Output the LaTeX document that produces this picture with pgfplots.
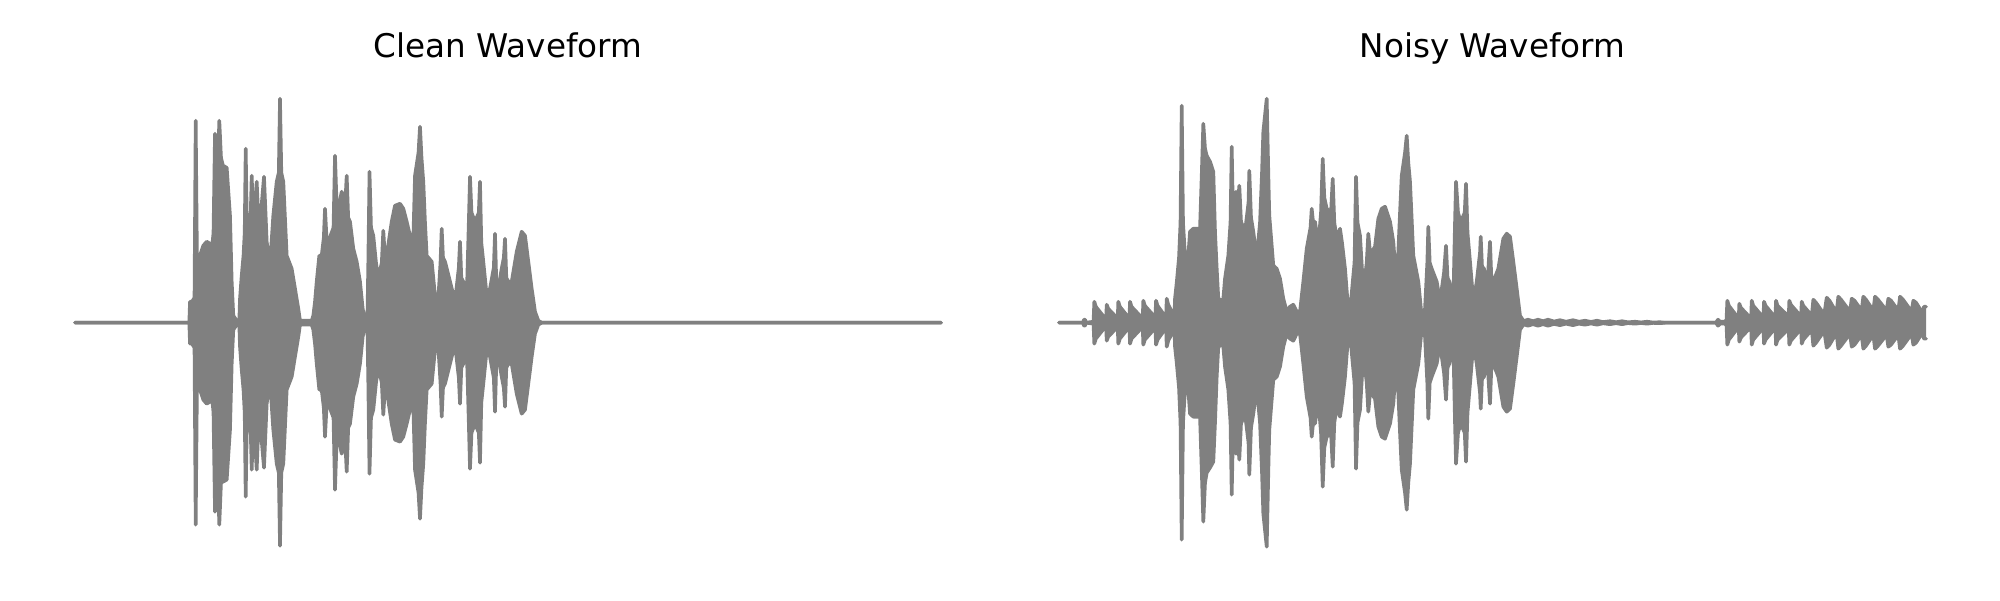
\documentclass[border=0pt]{standalone}
\usepackage{fontspec}
\setmainfont{DejaVu Sans}
\usepackage{pgfplots}
\usepackage{pgfplotstable}
\pgfplotsset{compat=1.18}
\usepgfplotslibrary{fillbetween}
\definecolor{wave}{RGB}{128,128,128}

\pgfplotstableread{
x t b
0 0 0
114.3 0 0
115 21 -21
117 21 -21
119.5 25 -25
120.7 202 -202
122 58 -58
125 67 -67
128.3 77 -77
131.7 81 -81
135 79 -79
137 74 -74
138.5 90 -90
140 189 -189
141.8 120 -120
144.3 202 -202
146 165 -160
148 157 -159
151.7 155 -157
155 107 -107
156.7 41 -41
158.3 7 -7
161.7 2 -2
164.3 2 -2
165 24 -24
166.7 47 -47
168.5 67 -67
169.7 90 -90
170.7 174 -174
172 90 -90
173.3 91 -91
175.5 100 -100
176.7 147 -147
178 107 -107
179.5 110 -110
181.7 141 -147
183.5 101 -101
186 110 -110
189 146 -145
191.7 81 -81
195 57 -57
198.3 107 -107
201.7 141 -141
203.8 150 -150
205 224 -223
206.3 150 -150
208.3 141 -141
211.7 67 -67
216.7 54 -54
220 34 -34
223.3 14 -14
225 2 -2
236.7 2 -2
238.3 7 -7
240 21 -21
241.7 41 -41
244.3 67 -67
246.7 67 -67
248.8 85 -85
250 114 -114
251.5 85 -85
253.3 81 -81
258.5 95 -95
260 167 -167
261.6 118 -118
263.3 114 -114
266.7 131 -131
270.3 120 -120
271.7 147 -149
273.2 105 -105
275 101 -101
278.3 74 -74
281.7 61 -61
285 41 -41
287.7 14 -14
290 2 -2
292.5 10 -10
293.3 60 -60
294.5 151 -151
296 95 -95
298.3 87 -87
301 60 -60
303.3 44 -44
306.8 60 -60
308.3 92 -92
309.8 67 -67
311.7 67 -67
316.7 101 -101
320 117 -117
325 119 -119
328.3 114 -114
331.7 101 -101
335 87 -87
337.7 60 -60
340 147 -147
343.5 170 -170
345 196 -196
346.5 165 -165
348.3 141 -141
350 100 -100
351.7 67 -67
356.7 61 -61
360 27 -27
361.7 4 -4
363.3 24 -24
365.5 60 -60
366.7 94 -94
368 65 -65
370 61 -61
375 41 -41
380 21 -21
383.8 55 -55
385 81 -81
386.3 45 -45
388.3 41 -41
391.7 24 -24
393.8 100 -100
395 146 -146
396.5 110 -110
400 101 -101
403.8 110 -110
405 141 -140
406.3 80 -80
408.3 61 -61
411.7 27 -27
415 34 -34
418.8 55 -55
420 89 -89
421.3 40 -40
423.3 34 -34
426.7 54 -54
428.8 65 -65
430 84 -84
431.3 45 -45
433.3 41 -41
436.7 41 -41
441.7 71 -71
446.7 91 -91
450 87 -87
453.3 61 -61
456.7 34 -34
460 11 -11
463.3 2 -2
466.7 0 0
845 0 0
866 0 0
}\clean

\pgfplotstableread{
x t b
0 0 0
24 0 0
25 3 -3
26 3 -3
27 0 0
34.5 1 -1
35.3 21 -21
36.8 16 -16
47.1 3 -3
47.7 18 -18
49.2 14 -14
58.7 4 -4
59.3 21 -21
60.8 16 -16
70.4 4 -4
71 21 -21
72.5 16 -16
83.7 4 -4
84.3 22 -22
85.8 17 -17
96.4 5 -5
97 22 -22
98.5 17 -17
107.1 5 -5
107.7 24 -24
109.2 18 -18
115.4 6 -6
116 24 -24
117.7 40 -40
120 65 -65
121.5 100 -100
122.7 217 -217
124 100 -100
126 67 -67
129.3 67 -67
131 91 -91
134.3 94 -94
137.7 94 -94
141 94 -94
142.8 150 -150
144.3 199 -199
146 174 -160
147.7 167 -150
151 161 -145
154.3 151 -139
156 91 -100
157.7 54 -54
159.3 24 -24
162.7 22 -22
164.3 24 -24
166 44 -44
169.3 67 -67
171.5 100 -100
172.7 176 -172
174 107 -107
177 131 -131
179 120 -120
180.3 137 -137
182 101 -101
186 91 -91
189.5 120 -120
190.3 152 -152
192 105 -105
194.3 91 -91
197.7 64 -64
201 100 -100
203 150 -150
204.3 191 -191
207.7 224 -224
209.5 140 -140
210.3 107 -107
214.3 57 -57
217.7 54 -54
221 44 -44
224.3 24 -24
227.7 11 -11
231 16 -16
234.3 18 -18
237.7 11 -11
241 11 -11
244.3 41 -41
247.7 74 -74
251.5 95 -95
252.7 114 -114
254 101 -101
256 101 -101
259.3 77 -77
262 110 -110
263.7 164 -164
265.3 125 -125
267.7 114 -114
272 110 -110
273.7 144 -144
275.3 100 -100
277.7 84 -84
281 94 -94
283 80 -80
286 54 -54
289.3 11 -11
291 11 -11
295.5 60 -60
297 146 -146
298.5 100 -100
301 87 -87
304.3 31 -31
307.7 60 -60
309.3 89 -89
311 70 -70
312.7 71 -71
316 76 -76
319.3 104 -104
322.7 114 -114
326 116 -116
331 101 -101
334.3 81 -81
337.7 34 -34
341 110 -110
342.7 147 -147
346 170 -170
347.7 187 -187
349.3 160 -160
351 141 -141
354.3 67 -67
359.3 41 -41
362.7 6 -6
366 14 -14
368.3 60 -60
369.3 96 -96
370.7 60 -60
372.7 54 -54
377.7 41 -41
381 21 -21
385 50 -50
387 77 -77
388.5 45 -45
390.3 41 -41
394.3 21 -21
396 100 -100
397 141 -141
399 110 -110
401.7 101 -101
405.7 110 -110
407 139 -139
408.5 90 -90
411 61 -61
414.3 21 -21
417.7 41 -41
421 70 -70
421.7 86 -86
423 56 -56
425 54 -54
427.7 27 -27
429.7 60 -60
431 81 -81
432.3 45 -45
434.3 41 -41
439.3 54 -54
444.3 84 -84
447.7 89 -89
451 86 -86
454.3 61 -61
457.7 34 -34
461 7 -7
464.3 2 -2
466 2 -2
469 3 -3
474 1.5 -1.5
479 3 -3
484 1.5 -1.5
489 3 -3
495 1.2 -1.2
501 2.5 -2.5
507 1 -1
514 2.5 -2.5
520 1 -1
526 2 -2
532 0.8 -0.8
538 2 -2
544 0.6 -0.6
551 1.5 -1.5
557 0.5 -0.5
563 1.5 -1.5
569 0.4 -0.4
576 1 -1
582 0.3 -0.3
588 1 -1
594 0.2 -0.2
601 0.5 -0.5
606 0 0
657 0 0
659 3 -3
661 1 -1
666 1 -1
667.5 3 -3
668.3 22 -22
669.8 17 -17
679.7 4 -4
680.3 19 -19
681.8 15 -15
692.1 4 -4
692.7 22 -22
694.2 17 -17
704.4 5 -5
705 21 -21
706.5 17 -17
716.4 5 -5
717 22 -22
718.5 17 -17
729.7 6 -6
730.3 22 -22
731.8 18 -18
742.1 6 -6
742.7 21 -21
744.2 17 -17
752.8 7 -7
754.3 23 -23
757 20 -20
765.2 8 -8
767.7 25 -25
770.5 22 -22
777.5 10 -10
779.3 26 -26
782 23 -23
791 11 -11
792.7 24 -24
795.5 22 -22
802.6 12 -12
804.3 26 -26
807 23 -23
814.3 12 -12
816 26 -26
819 23 -23
827.6 12 -12
829.3 24 -24
832 22 -22
839.3 12 -12
841 26 -26
844 23 -23
852.6 11 -11
854.3 22 -22
857 20 -20
863.3 10 -10
865 16 -16
867 16 -16
}\noisy

\pgfplotsset{
  wavestyle/.style={
    scale only axis, width=433pt, height=240pt,
    xmin=0, xmax=866, ymin=-240, ymax=240,
    axis lines=none, ticks=none, clip=false,
    title style={at={(0.5,1)}, anchor=base, yshift=6.6pt,
      font=\fontsize{16.3}{19.5}\selectfont},
  },
  waveedge/.style={wave, line width=1.8pt, line join=round, line cap=round, mark=none},
}

\begin{document}
\begin{tikzpicture}
\begin{axis}[wavestyle, at={(37.5pt,18.65pt)}, anchor=south west, title={Clean Waveform}]
  \addplot[waveedge, name path=cu] table[x=x, y=t] {\clean};
  \addplot[waveedge, name path=cl] table[x=x, y=b] {\clean};
  \addplot[wave] fill between[of=cu and cl];
\end{axis}
\begin{axis}[wavestyle, xmax=867, width=433.5pt, at={(529.5pt,18.65pt)}, anchor=south west, title={Noisy Waveform}]
  \addplot[waveedge, name path=nu] table[x=x, y=t] {\noisy};
  \addplot[waveedge, name path=nl] table[x=x, y=b] {\noisy};
  \addplot[wave] fill between[of=nu and nl];
\end{axis}
\path (0,0) rectangle (1000pt,300pt);
\end{tikzpicture}
\end{document}
